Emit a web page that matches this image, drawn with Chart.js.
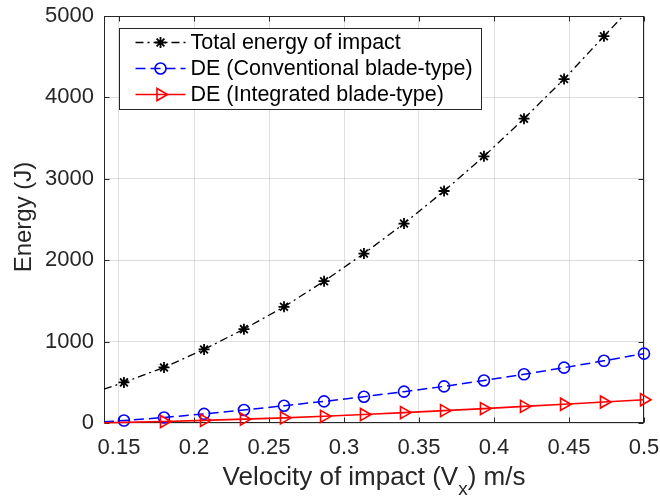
<!DOCTYPE html>
<html lang="en">
<head>
<meta charset="UTF-8">
<title>Energy vs velocity of impact</title>
<script src="https://cdn.jsdelivr.net/npm/chart.js"></script>
<style>
  html, body { margin: 0; padding: 0; background: #fff; }
  #wrap { width: 660px; height: 500px; }
</style>
</head>
<body>
<div id="wrap"><canvas id="energyChart" width="660" height="500"></canvas></div>
<script>
// velocity of impact (m/s); the first entry is where the curves enter the axes (no marker there)
const velocity = [0.14, 0.1533, 0.18, 0.2067, 0.2333, 0.26, 0.2867, 0.3133, 0.34, 0.3667, 0.3933, 0.42, 0.4467, 0.4733, 0.5];
const totalEnergy = [415, 499, 683, 904, 1153, 1427, 1742, 2082, 2450, 2850, 3276, 3739, 4225, 4752, 5270];
const deConventional = [15, 30, 68, 112, 160, 212, 266, 323, 385, 450, 522, 598, 680, 764, 852];
const deIntegrated = [3, 8, 18, 32, 47, 63, 82, 104, 128, 152, 177, 204, 230, 258, 286];

const xTicks = [0.15, 0.2, 0.25, 0.3, 0.35, 0.4, 0.45, 0.5];
const yTicks = [0, 1000, 2000, 3000, 4000, 5000];
const seriesNames = ['Total energy of impact', 'DE (Conventional blade-type)', 'DE (Integrated blade-type)'];

const axisColor = '#262626';
const fontFamily = "'Liberation Sans', Arial, Helvetica, sans-serif";

function points(values) {
    return velocity.map((v, i) => ({ x: v, y: values[i] }));
}

// axes box, inward ticks, axis titles and the boxed legend (MATLAB look)
const matlabFrame = {
    id: 'matlabFrame',
    beforeDatasetsDraw(chart) {
        const { ctx, chartArea: a, scales } = chart;
        const L = Math.round(a.left) + 0.5, R = Math.round(a.right) - 0.5;
        const T = Math.round(a.top) + 0.5, B = Math.round(a.bottom) - 0.5;
        ctx.save();
        ctx.strokeStyle = axisColor;
        ctx.lineWidth = 1;
        ctx.strokeRect(L, T, R - L, B - T);
        ctx.beginPath();
        xTicks.forEach(v => {
            const px = Math.round(scales.x.getPixelForValue(v)) + 0.5;
            ctx.moveTo(px, B); ctx.lineTo(px, B - 5);
            ctx.moveTo(px, T); ctx.lineTo(px, T + 5);
        });
        yTicks.forEach(v => {
            const py = Math.round(scales.y.getPixelForValue(v)) + 0.5;
            ctx.moveTo(L, py); ctx.lineTo(L + 5, py);
            ctx.moveTo(R, py); ctx.lineTo(R - 5, py);
        });
        ctx.stroke();
        ctx.restore();
    },
    afterDraw(chart) {
        const { ctx, chartArea: a } = chart;
        ctx.save();
        ctx.fillStyle = axisColor;

        // x title with subscript
        const big = '26px ' + fontFamily, small = '19px ' + fontFamily;
        const p1 = 'Velocity of impact (V', p2 = 'x', p3 = ') m/s';
        ctx.font = big;
        const w1 = ctx.measureText(p1).width, w3 = ctx.measureText(p3).width;
        ctx.font = small;
        const w2 = ctx.measureText(p2).width;
        let tx = (a.left + a.right) / 2 - (w1 + w2 + w3) / 2;
        const base = 485;
        ctx.textBaseline = 'alphabetic';
        ctx.textAlign = 'left';
        ctx.font = big; ctx.fillText(p1, tx, base); tx += w1;
        ctx.font = small; ctx.fillText(p2, tx, base + 10); tx += w2;
        ctx.font = big; ctx.fillText(p3, tx, base);

        // y title
        ctx.save();
        ctx.translate(24, 217);
        ctx.rotate(-Math.PI / 2);
        ctx.textAlign = 'center';
        ctx.textBaseline = 'middle';
        ctx.font = '24px ' + fontFamily;
        ctx.fillText('Energy (J)', 0, 0);
        ctx.restore();

        // legend box
        const bx = a.left + 15.5, by = a.top + 12.5, bw = 362, bh = 81;
        ctx.fillStyle = '#fff';
        ctx.fillRect(bx, by, bw, bh);
        ctx.strokeStyle = axisColor;
        ctx.lineWidth = 1;
        ctx.strokeRect(bx, by, bw, bh);
        ctx.font = '21.5px ' + fontFamily;
        ctx.textAlign = 'left';
        ctx.textBaseline = 'middle';
        chart.data.datasets.forEach((ds, i) => {
            const ry = by + 14 + i * 26;
            const x0 = bx + 16, x1 = bx + 66;
            ctx.save();
            ctx.strokeStyle = ds.borderColor;
            ctx.lineWidth = ds.borderWidth;
            ctx.setLineDash(ds.borderDash || []);
            ctx.beginPath();
            ctx.moveTo(x0, ry); ctx.lineTo(x1, ry);
            ctx.stroke();
            ctx.setLineDash([]);
            ctx.strokeStyle = ds.pointBorderColor;
            ctx.fillStyle = 'rgba(0,0,0,0)';
            ctx.lineWidth = ds.pointBorderWidth;
            Chart.helpers.drawPoint(ctx, {
                pointStyle: ds.pointStyle,
                rotation: ds.pointRotation || 0,
                radius: ds.legendRadius,
                borderWidth: ds.pointBorderWidth
            }, (x0 + x1) / 2, ry);
            ctx.restore();
            ctx.fillStyle = '#000';
            ctx.fillText(ds.label, x1 + 5, ry + 1);
        });
        ctx.restore();
    }
};

new Chart(document.getElementById('energyChart'), {
    type: 'line',
    data: {
        datasets: [
            {
                label: seriesNames[0],
                data: points(totalEnergy),
                borderColor: '#000',
                borderWidth: 1.3,
                borderDash: [8, 4, 2, 4],
                pointStyle: 'star',
                pointRadius: c => c.dataIndex === 0 ? 0 : 5.5,
                legendRadius: 5.5,
                pointBorderColor: '#000',
                pointBackgroundColor: 'rgba(0,0,0,0)',
                pointBorderWidth: 1.8,
                clip: { left: 8, right: 8, top: 0, bottom: 8 },
                order: 3
            },
            {
                label: seriesNames[1],
                data: points(deConventional),
                borderColor: '#0000ff',
                borderWidth: 1.5,
                borderDash: [10, 5],
                pointStyle: 'circle',
                pointRadius: c => c.dataIndex === 0 ? 0 : 5.5,
                legendRadius: 5.5,
                pointBorderColor: '#0000ff',
                pointBackgroundColor: 'rgba(0,0,0,0)',
                pointBorderWidth: 1.6,
                clip: 8,
                order: 2
            },
            {
                label: seriesNames[2],
                data: points(deIntegrated),
                borderColor: '#ff0000',
                borderWidth: 1.6,
                pointStyle: 'triangle',
                pointRotation: 90,
                pointRadius: c => c.dataIndex <= 1 ? 0 : 7,
                legendRadius: 7,
                pointBorderColor: '#ff0000',
                pointBackgroundColor: 'rgba(0,0,0,0)',
                pointBorderWidth: 1.6,
                clip: 9,
                order: 1
            }
        ]
    },
    options: {
        responsive: false,
        animation: false,
        events: [],
        layout: { padding: { top: 16, right: 16, left: 0, bottom: 0 } },
        plugins: { legend: { display: false }, tooltip: { enabled: false } },
        scales: {
            x: {
                type: 'linear',
                min: 0.14,
                max: 0.5,
                afterBuildTicks: s => { s.ticks = xTicks.map(v => ({ value: v })); },
                afterFit: s => { s.height = 77; s.paddingLeft = 0; s.paddingRight = 0; },
                ticks: {
                    autoSkip: false,
                    maxRotation: 0,
                    padding: 12,
                    color: axisColor,
                    font: { family: fontFamily, size: 22 },
                    callback: v => String(v)
                },
                grid: { color: 'rgba(38,38,38,0.15)', drawTicks: false },
                border: { display: false }
            },
            y: {
                min: 0,
                max: 5000,
                afterBuildTicks: s => { s.ticks = yTicks.map(v => ({ value: v })); },
                afterFit: s => { s.width = 104; s.paddingTop = 0; s.paddingBottom = 0; },
                ticks: {
                    padding: 10,
                    color: axisColor,
                    font: { family: fontFamily, size: 22 },
                    callback: v => String(v)
                },
                grid: { color: 'rgba(38,38,38,0.15)', drawTicks: false },
                border: { display: false }
            }
        }
    },
    plugins: [matlabFrame]
});
</script>
</body>
</html>
